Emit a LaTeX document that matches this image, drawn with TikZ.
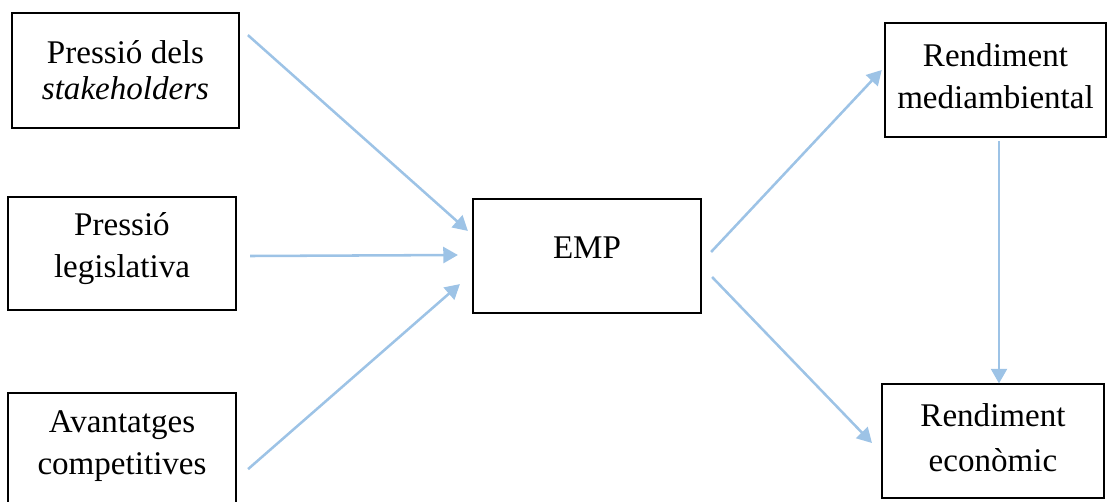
\documentclass[tikz,border=0pt]{standalone}
\usepackage{fontspec}
\setmainfont{Liberation Serif}
\usetikzlibrary{arrows.meta,calc}
\definecolor{arrowblue}{RGB}{157,195,230}
\tikzset{
  box/.style={draw=black, line width=1.6pt, inner sep=0pt},
  txt/.style={align=center, inner sep=0pt, font=\fontsize{24.8}{31.5}\selectfont},
  conn/.style={draw=arrowblue, line width=1.9pt,
    -{Triangle[length=11pt,width=12pt]}}
}
\begin{document}
\begin{tikzpicture}[x=0.75pt,y=-0.75pt]
\useasboundingbox (0,0) rectangle (1108,501);
\clip (0,0) rectangle (1108,501);
\node[box, minimum width=170pt, minimum height=86pt,
  label={[txt, font=\fontsize{24.8}{27}\selectfont, yshift=0pt]center:{Pressió dels\\\textit{stakeholders}}}] (b1) at (125.5,70.5) {};
\node[box, minimum width=171pt, minimum height=85pt,
  label={[txt, yshift=3.4pt]center:{Pressió\\legislativa}}] (b2) at (122,253.5) {};
\node[box, minimum width=171pt, minimum height=86pt,
  label={[txt, yshift=3.4pt]center:{Avantatges\\competitives}}] (b3) at (122,450.5) {};
\node[box, minimum width=171pt, minimum height=85.5pt,
  label={[txt, yshift=6pt]center:{EMP}}] (emp) at (587,256) {};
\node[box, minimum width=166pt, minimum height=85.5pt,
  label={[txt, yshift=3pt]center:{Rendiment\\mediambiental}}] (rm) at (995.5,80) {};
\node[box, minimum width=166.5pt, minimum height=85.5pt,
  label={[txt, font=\fontsize{24.8}{33.5}\selectfont, yshift=2.6pt]center:{Rendiment\\econòmic}}] (re) at (993,441) {};
\draw[conn] ($(b1.north east)+(8,23)$) -- ($(emp.north west)+(-4,33)$);
\draw[conn] ($(b2.east)+(13,2.5)$) -- ($(emp.west)+(-14,-1)$);
\draw[conn] ($(b3.north east)+(11,77)$) -- ($(emp.south west)+(-12,-30)$);
\draw[conn] ($(emp.east)+(9,-4)$) -- ($(rm.west)+(-2,-10)$);
\draw[conn] ($(emp.east)+(10,21)$) -- ($(re.west)+(-9,2)$);
\draw[conn] ($(rm.south)+(3.5,3)$) -- ($(re.north)+(6,0.5)$);
\end{tikzpicture}
\end{document}
